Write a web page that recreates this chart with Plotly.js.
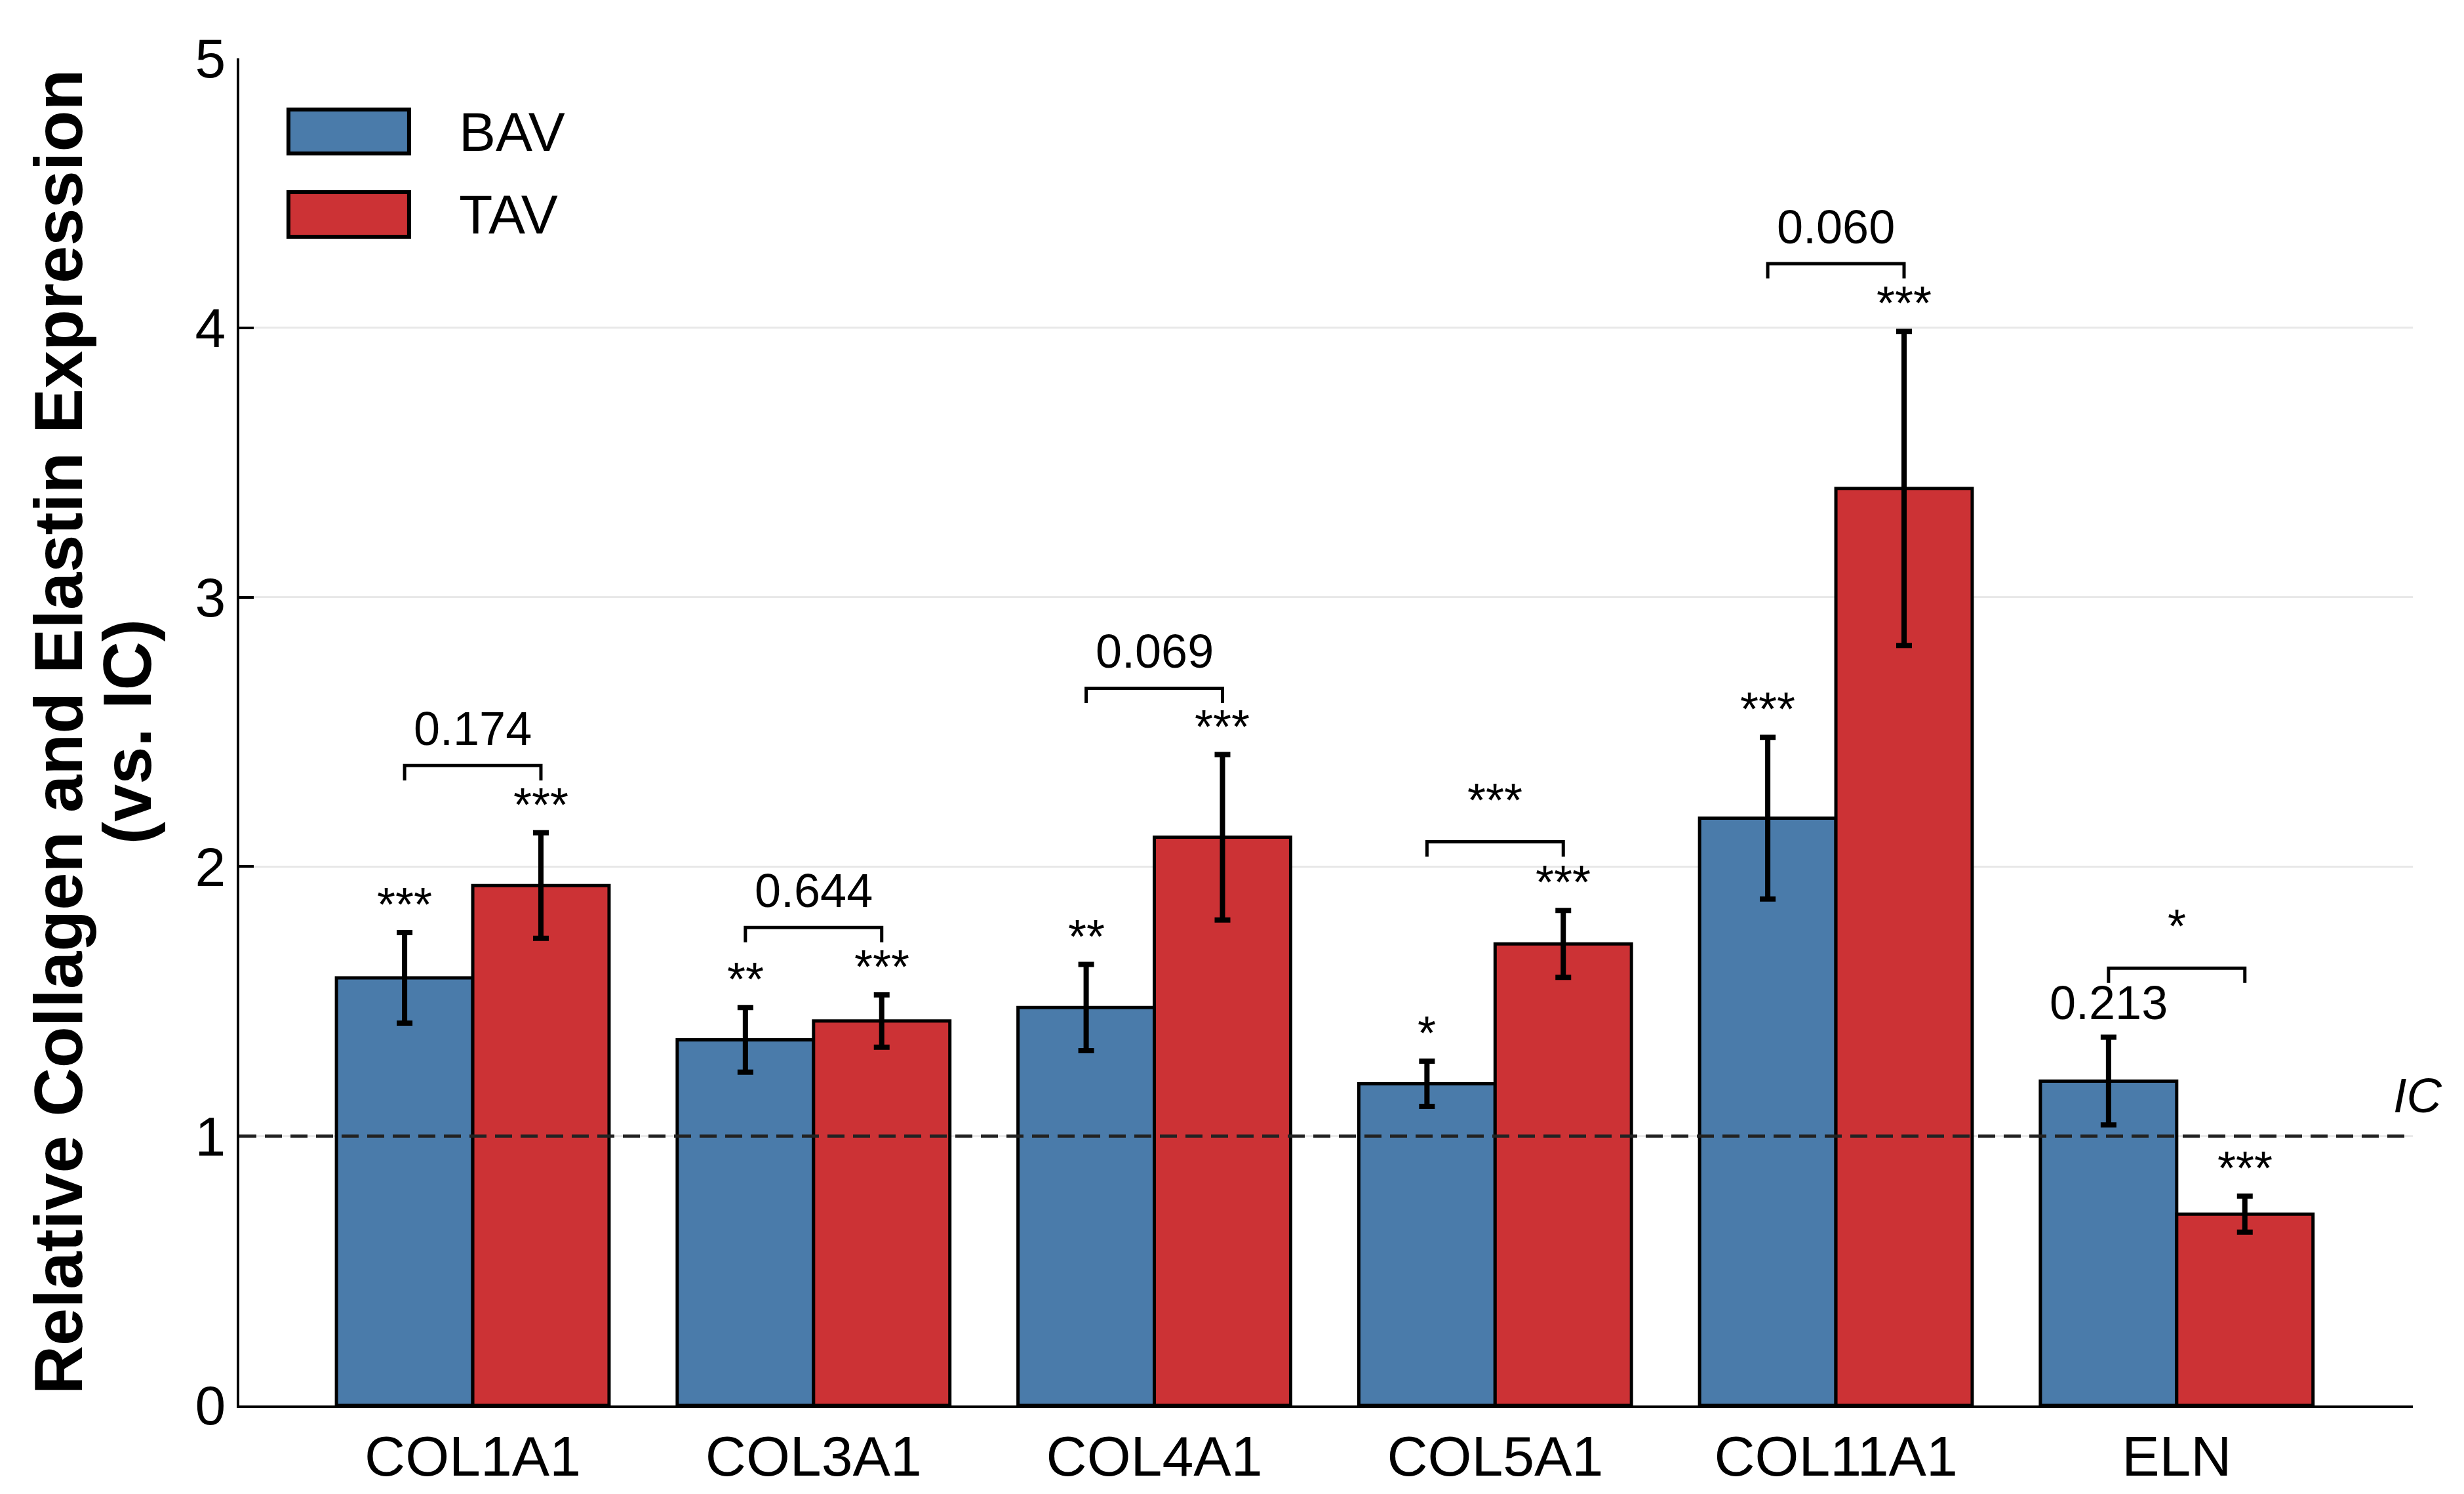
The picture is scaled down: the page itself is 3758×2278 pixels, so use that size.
<!DOCTYPE html>
<html>
<head>
<meta charset="utf-8">
<script src="https://cdn.plot.ly/plotly-3.0.1.min.js"></script>
<style>html,body{margin:0;padding:0;background:#fff;}#chart{width:3758px;height:2278px;}</style>
</head>
<body>
<div id="chart"></div>
<script>
// ---- data ----
const categories = ['COL1A1', 'COL3A1', 'COL4A1', 'COL5A1', 'COL11A1', 'ELN'];
const bavValues = [1.587, 1.357, 1.477, 1.194, 2.180, 1.204];
const bavErrors = [0.168, 0.120, 0.160, 0.084, 0.300, 0.163];
const tavValues = [1.930, 1.427, 2.109, 1.713, 3.404, 0.710];
const tavErrors = [0.196, 0.097, 0.307, 0.124, 0.583, 0.067];
const bavMarks = ['***', '**', '**', '*', '***', '0.213'];
const tavMarks = ['***', '***', '***', '***', '***', '***'];
const compareLabels = ['0.174', '0.644', '0.069', '***', '0.060', '*'];
const compareHeights = [2.375, 1.774, 2.662, 2.092, 4.238, 1.623];
const icLevel = 1;
const yTicks = [0, 1, 2, 3, 4, 5];
const yTitleLine1 = 'Relative Collagen and Elastin Expression';
const yTitleLine2 = '(vs. IC)';

// ---- styling constants ----
const FONT = 'Liberation Sans, Arial, Helvetica, sans-serif';
const BLUE = '#4A7BAA';
const RED = '#CC3235';
const half = 0.2;          // offset of each bar centre from the group centre
const drop = 0.055;        // bracket leg length (data units)

const idx = categories.map((_, i) => i);

const bav = {
  type: 'bar', name: 'BAV', x: idx, y: bavValues, offsetgroup: 'a',
  marker: {color: BLUE, line: {color: '#000', width: 5}},
  error_y: {type: 'data', array: bavErrors, visible: true, color: '#000', thickness: 8, width: 12},
  showlegend: false, hoverinfo: 'skip'
};
const tav = {
  type: 'bar', name: 'TAV', x: idx, y: tavValues, offsetgroup: 'b',
  marker: {color: RED, line: {color: '#000', width: 5}},
  error_y: {type: 'data', array: tavErrors, visible: true, color: '#000', thickness: 8, width: 12},
  showlegend: false, hoverinfo: 'skip'
};

// comparison brackets
const bx = [], by = [];
idx.forEach(i => {
  const h = compareHeights[i];
  bx.push(i - half, i - half, i + half, i + half, null);
  by.push(h - drop, h, h, h - drop, null);
});
const brackets = {
  type: 'scatter', mode: 'lines', x: bx, y: by,
  line: {color: '#000', width: 5}, showlegend: false, hoverinfo: 'skip', cliponaxis: false
};

const annotations = [];
function markShift(t) { return t.startsWith('*') ? 43 : 52; }
idx.forEach(i => {
  annotations.push({
    x: i - half, y: bavValues[i] + bavErrors[i], xref: 'x', yref: 'y',
    text: bavMarks[i], showarrow: false, yanchor: 'middle', yshift: markShift(bavMarks[i]),
    font: {family: FONT, size: 72, color: '#000'}
  });
  annotations.push({
    x: i + half, y: tavValues[i] + tavErrors[i], xref: 'x', yref: 'y',
    text: tavMarks[i], showarrow: false, yanchor: 'middle', yshift: markShift(tavMarks[i]),
    font: {family: FONT, size: 72, color: '#000'}
  });
  annotations.push({
    x: i, y: compareHeights[i], xref: 'x', yref: 'y',
    text: compareLabels[i], showarrow: false, yanchor: 'middle',
    yshift: compareLabels[i].startsWith('*') ? 64 : 56,
    font: {family: FONT, size: 72, color: '#000'}
  });
});
annotations.push({
  x: 1.0024, y: icLevel, xref: 'paper', yref: 'y', text: '<i>IC</i>', showarrow: false,
  xanchor: 'center', yanchor: 'middle', yshift: 62, font: {family: FONT, size: 74, color: '#000'}
});
// second line of the y-axis title
annotations.push({
  x: -0.0515, y: 0.5, xref: 'paper', yref: 'paper', text: '<b>' + yTitleLine2 + '</b>', showarrow: false,
  textangle: -90, xanchor: 'center', yanchor: 'middle', font: {family: FONT, size: 103, color: '#000'}
});
// legend labels
const legendItems = [{name: 'BAV', color: BLUE, y0: 0.9294, y1: 0.962}, {name: 'TAV', color: RED, y0: 0.8676, y1: 0.9007}];
const shapes = [{
  type: 'line', xref: 'paper', x0: 0, x1: 1, yref: 'y', y0: icLevel, y1: icLevel,
  line: {color: '#222', width: 5, dash: '26px,13px'}, layer: 'above'
}];
legendItems.forEach(it => {
  shapes.push({type: 'rect', xref: 'paper', yref: 'paper', x0: 0.0226, x1: 0.0781, y0: it.y0, y1: it.y1,
    fillcolor: it.color, line: {color: '#000', width: 6}});
  annotations.push({x: 0.1005, y: (it.y0 + it.y1) / 2, xref: 'paper', yref: 'paper', text: it.name,
    showarrow: false, xanchor: 'left', yanchor: 'middle', font: {family: FONT, size: 84, color: '#000'}});
});

const layout = {
  width: 3758, height: 2278,
  margin: {l: 365, r: 78, t: 89, b: 135},
  paper_bgcolor: '#fff', plot_bgcolor: '#fff',
  barmode: 'group', bargap: 0.2, bargroupgap: 0,
  font: {family: FONT, color: '#000'},
  xaxis: {
    type: 'linear', range: [-0.685, 5.693], tickvals: idx, ticktext: categories,
    showline: true, linecolor: '#000', linewidth: 4, ticks: '', showgrid: false, zeroline: false,
    tickfont: {family: FONT, size: 86, color: '#000'}
  },
  yaxis: {
    range: [0, 5], tickvals: yTicks, showline: true, linecolor: '#000', linewidth: 4,
    ticks: 'inside', ticklen: 22, tickwidth: 4, tickcolor: '#000',
    showgrid: true, gridcolor: '#e8e8e8', gridwidth: 3, zeroline: false,
    tickfont: {family: FONT, size: 84, color: '#000'},
    title: {text: '<b>' + yTitleLine1 + '</b>', font: {family: FONT, size: 103, color: '#000'}, standoff: 138}
  },
  shapes: shapes,
  annotations: annotations,
  showlegend: false
};

Plotly.newPlot('chart', [bav, tav, brackets], layout, {staticPlot: true});
</script>
</body>
</html>
